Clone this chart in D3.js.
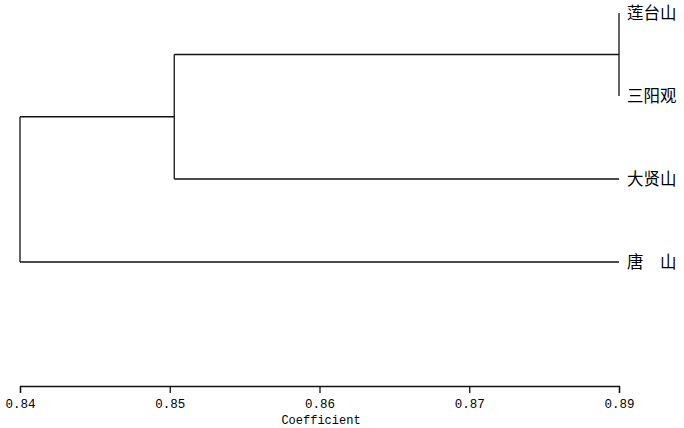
<!DOCTYPE html>
<html>
<head>
<meta charset="utf-8">
<script src="https://cdn.jsdelivr.net/npm/d3@7"></script>
<style>
  body { margin: 0; background: #fff; }
  svg { display: block; }
</style>
</head>
<body>
<div id="chart"></div>
<script>
var width = 684,
    height = 428;

// leaves, top to bottom
var leafNames = ["莲台山", "三阳观", "大贤山", "唐\u3000山"];
// linkage: pairs of node ids (leaves are 0..3, merged nodes follow) and the coefficient where they join
var mergePairs = [[0, 1], [4, 2], [5, 3]];
var mergeCoef = [0.88, 0.8503, 0.84];
var leafCoef = 0.88;
var tickValues = [0.84, 0.85, 0.86, 0.87, 0.88];
var tickLabels = ["0.84", "0.85", "0.86", "0.87", "0.89"];
var axisTitle = "Coefficient";

var svg = d3.select("#chart").append("svg")
    .attr("width", width)
    .attr("height", height);

var x = d3.scaleLinear()
    .domain([0.84, 0.88])
    .range([20, 619]);

var y = d3.scalePoint()
    .domain(leafNames)
    .range([13, 262]);

// positions of every node
var nodes = leafNames.map(function(n) {
  return {x: x(leafCoef), y: y(n)};
});
mergePairs.forEach(function(p, i) {
  var a = nodes[p[0]], b = nodes[p[1]];
  nodes.push({x: x(mergeCoef[i]), y: (a.y + b.y) / 2, kids: [a, b]});
});

var g = svg.append("g")
    .attr("fill", "none")
    .attr("stroke", "#111")
    .attr("stroke-width", 1.3);

nodes.filter(function(d) { return d.kids; }).forEach(function(d) {
  g.append("line")
    .attr("x1", d.x).attr("x2", d.x)
    .attr("y1", d.kids[0].y).attr("y2", d.kids[1].y);
  d.kids.forEach(function(k) {
    if (k.x > d.x) {
      g.append("line")
        .attr("x1", d.x).attr("x2", k.x)
        .attr("y1", k.y).attr("y2", k.y);
    }
  });
});

svg.selectAll(".leaf")
    .data(leafNames)
  .enter().append("text")
    .attr("class", "leaf")
    .attr("x", x(leafCoef) + 8)
    .attr("y", function(d) { return y(d); })
    .attr("dy", "0.36em")
    .style("white-space", "pre")
    .style("font-family", "'Noto Sans CJK SC', sans-serif")
    .style("font-size", "16.5px")
    .style("fill", "#000")
    .text(function(d) { return d; });

// axis
var axis = svg.append("g")
    .attr("transform", "translate(0,386)")
    .call(d3.axisBottom(x)
      .tickValues(tickValues)
      .tickSizeOuter(0)
      .tickSize(7)
      .tickFormat(function(d, i) { return tickLabels[i]; }));

axis.select(".domain").attr("stroke", "#111").attr("stroke-width", 1.3);
axis.selectAll(".tick line").attr("stroke", "#111").attr("stroke-width", 1.3);
axis.selectAll(".tick text")
    .attr("y", 22)
    .attr("dy", 0)
    .style("font-family", "'Liberation Mono', monospace")
    .style("font-size", "12.5px")
    .style("fill", "#000");

svg.append("text")
    .attr("x", 321)
    .attr("y", 424)
    .attr("text-anchor", "middle")
    .style("font-family", "'Liberation Mono', monospace")
    .style("font-size", "12px")
    .style("fill", "#000")
    .text(axisTitle);
</script>
</body>
</html>
